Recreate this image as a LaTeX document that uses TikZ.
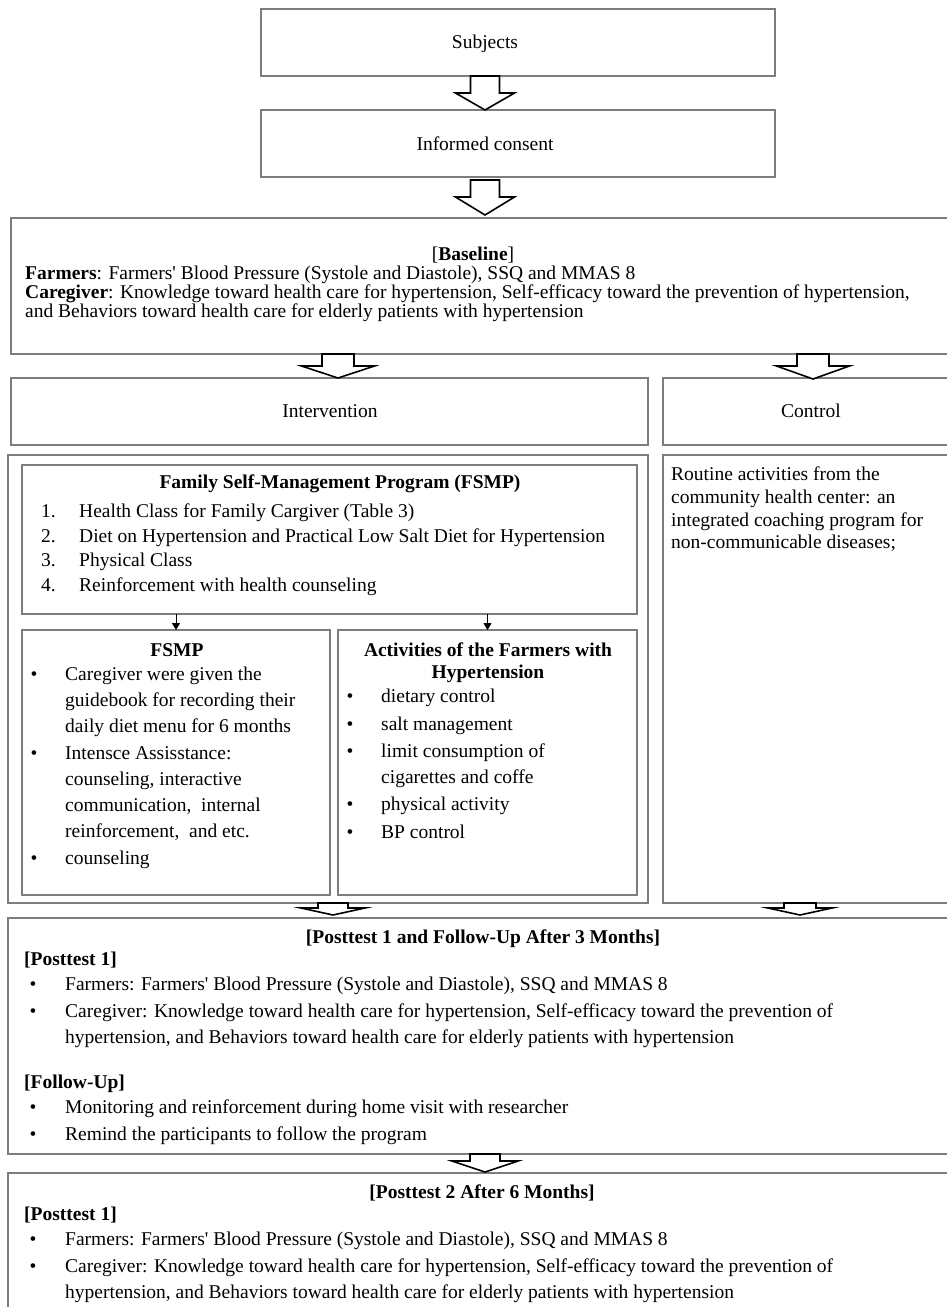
\documentclass[tikz,border=0pt]{standalone}
\usepackage{fontspec}
\setmainfont{Liberation Serif}
\usetikzlibrary{arrows.meta,calc}
\definecolor{bordergray}{RGB}{125,125,125}
\newcounter{tn}
\newcommand\fs{\fontsize{19.5pt}{22.5pt}\selectfont}
\newcommand\apos{\XeTeXglyph\XeTeXcharglyph"27\relax}
\newcommand\boxat[5]{\node[box, anchor=north west, minimum width={(#4)-(#2)}, minimum height={(#5)-(#3)}] (#1) at (#2,#3) {};}
\newcommand\blockarrow[6]{%
 \draw[barrow] ({#1-#5/2},#2) -- ({#1+#5/2},#2) -- ({#1+#5/2},#3) -- ({#1+#6/2},#3) -- (#1,#4) -- ({#1-#6/2},#3) -- ({#1-#5/2},#3) -- cycle;}
\newcommand\tl[3]{\stepcounter{tn}\node[txtl] (t\arabic{tn}) at (#1,#2) {#3};}
\newcommand\tc[3]{\stepcounter{tn}\node[txtc] (t\arabic{tn}) at (#1,#2) {#3};}
\newcommand\bul[2]{\stepcounter{tn}\node[txtc] (t\arabic{tn}) at (#1,#2) {\textbullet};}
\tikzset{
 box/.style={draw=bordergray, line width=1.2pt, inner sep=0pt, outer sep=0pt},
 barrow/.style={draw=black, line width=1.6pt, fill=white, line join=miter},
 txtl/.style={inner sep=0pt, anchor=mid west, yshift=-3pt},
 txtc/.style={inner sep=0pt, anchor=mid, yshift=-3pt},
 smallarr/.style={draw=black, line width=1pt, -{Triangle[length=7pt,width=8pt]}}
}
\begin{document}
\begin{tikzpicture}[x=1pt,y=-1pt,font=\fs]
\useasboundingbox (0,0) rectangle (947,1307);
\clip (0,0) rectangle (947,1307);
% boxes
\boxat{subj}{261}{9}{775}{76}
\boxat{cons}{261}{110}{775}{177}
\boxat{base}{11}{218}{970}{354}
\boxat{intv}{11}{378}{648}{445}
\boxat{ctrl}{663}{378}{970}{445}
\boxat{intvbody}{8}{455}{648}{903}
\boxat{fsmp}{22}{465}{637}{614}
\boxat{subone}{22}{630}{330}{895}
\boxat{subtwo}{338}{630}{637}{895}
\boxat{ctrlbody}{663}{455}{970}{903}
\boxat{postone}{8}{918}{970}{1154}
\boxat{posttwo}{8}{1173}{970}{1330}
% block arrows
\blockarrow{485}{76}{93}{110}{29}{59}
\blockarrow{485}{180}{197}{215}{29}{59}
\blockarrow{338}{354}{366}{378}{32}{73}
\blockarrow{813}{354}{366}{379}{32}{73}
\blockarrow{333}{903}{908}{915}{30}{64}
\blockarrow{800}{903}{908}{915}{32}{64}
\blockarrow{485}{1154}{1161}{1172}{30}{66}
% small arrows
\draw[smallarr] (fsmp.south -| subone.north) -- (subone.north);
\draw[smallarr] (fsmp.south -| subtwo.north) -- (subtwo.north);
% texts
\tc{485}{43}{Subjects}
\tc{485}{145}{Informed consent}
\tc{473}{255}{[\textbf{Baseline}]}
\tl{25}{274}{\textbf{Farmers}: Farmers\apos{} Blood Pressure (Systole and Diastole), SSQ and MMAS 8}
\tl{25}{293}{\textbf{Caregiver}: Knowledge toward health care for hypertension, Self-efficacy toward the prevention of hypertension,}
\tl{25}{312}{and Behaviors toward health care for elderly patients with hypertension}
\tc{330}{412}{Intervention}
\tc{811}{412}{Control}
% FSMP
\tc{340}{483}{\textbf{Family Self-Management Program (FSMP)}}
\tl{41}{512}{1.}\tl{79}{512}{Health Class for Family Cargiver (Table 3)}
\tl{41}{537}{2.}\tl{79}{537}{Diet on Hypertension and Practical Low Salt Diet for Hypertension}
\tl{41}{561}{3.}\tl{79}{561}{Physical Class}
\tl{41}{586}{4.}\tl{79}{586}{Reinforcement with health counseling}
% sub one
\tc{177}{651}{\textbf{FSMP}}
\bul{34}{675}\tl{65}{675}{Caregiver were given the}
\tl{65}{701}{guidebook for recording their}
\tl{65}{727}{daily diet menu for 6 months}
\bul{34}{754}\tl{65}{754}{Intensce Assisstance:}
\tl{65}{780}{counseling, interactive}
\tl{65}{806}{communication,\ \ internal}
\tl{65}{832}{reinforcement,\ \ and etc.}
\bul{34}{859}\tl{65}{859}{counseling}
% sub two
\tc{488}{651}{\textbf{Activities of the Farmers with}}
\tc{488}{673}{\textbf{Hypertension}}
\bul{350}{697}\tl{381}{697}{dietary control}
\bul{350}{725}\tl{381}{725}{salt management}
\bul{350}{752}\tl{381}{752}{limit consumption of}
\tl{381}{778}{cigarettes and coffe}
\bul{350}{805}\tl{381}{805}{physical activity}
\bul{350}{833}\tl{381}{833}{BP control}
% control body
\tl{671}{475}{Routine activities from the}
\tl{671}{498}{community health center: an}
\tl{671}{521}{integrated coaching program for}
\tl{671}{543}{non-communicable diseases;}
% posttest 1
\tc{483}{938}{\textbf{[Posttest 1 and Follow-Up After 3 Months]}}
\tl{24}{960}{\textbf{[Posttest 1]}}
\bul{33}{985}\tl{65}{985}{Farmers: Farmers\apos{} Blood Pressure (Systole and Diastole), SSQ and MMAS 8}
\bul{33}{1012}\tl{65}{1012}{Caregiver: Knowledge toward health care for hypertension, Self-efficacy toward the prevention of}
\tl{65}{1038}{hypertension, and Behaviors toward health care for elderly patients with hypertension}
\tl{24}{1083}{\textbf{[Follow-Up]}}
\bul{33}{1108}\tl{65}{1108}{Monitoring and reinforcement during home visit with researcher}
\bul{33}{1135}\tl{65}{1135}{Remind the participants to follow the program}
% posttest 2
\tc{482}{1193}{\textbf{[Posttest 2 After 6 Months]}}
\tl{24}{1215}{\textbf{[Posttest 1]}}
\bul{33}{1240}\tl{65}{1240}{Farmers: Farmers\apos{} Blood Pressure (Systole and Diastole), SSQ and MMAS 8}
\bul{33}{1267}\tl{65}{1267}{Caregiver: Knowledge toward health care for hypertension, Self-efficacy toward the prevention of}
\tl{65}{1293}{hypertension, and Behaviors toward health care for elderly patients with hypertension}
\end{tikzpicture}
\end{document}
